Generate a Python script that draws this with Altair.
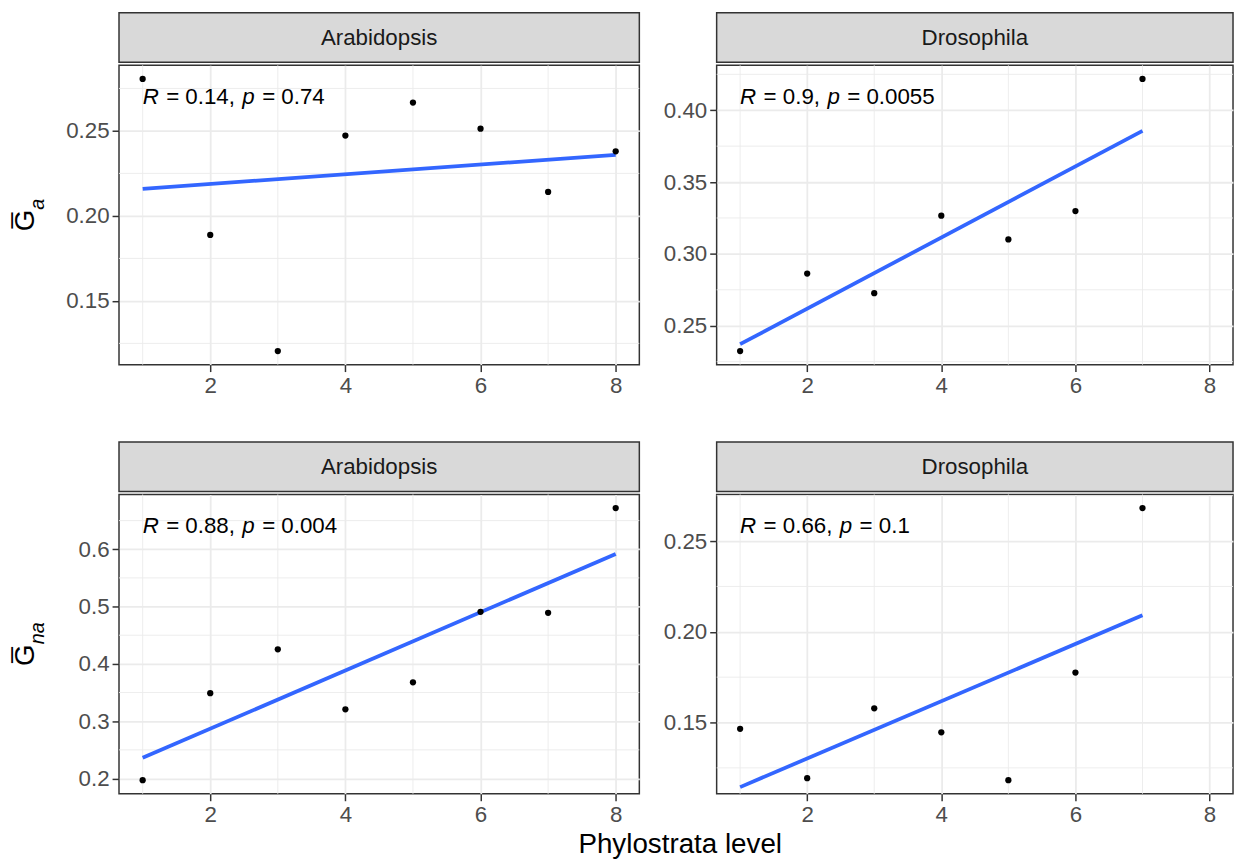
import altair as alt
import pandas as pd

FONT = "Liberation Sans"

# ---- data ----
species = ["Arabidopsis", "Drosophila"]
phylo_ara = [1, 2, 3, 4, 5, 6, 7, 8]
phylo_dro = [1, 2, 3, 4, 5, 6, 7]
ga_ara = [0.2806, 0.1888, 0.1205, 0.2473, 0.2667, 0.2513, 0.2141, 0.2380]
ga_dro = [0.2324, 0.2863, 0.2727, 0.3266, 0.3101, 0.3298, 0.4218]
gna_ara = [0.1971, 0.3489, 0.4253, 0.3207, 0.3678, 0.4908, 0.4891, 0.6718]
gna_dro = [0.1465, 0.1193, 0.1578, 0.1446, 0.1182, 0.1775, 0.2682]

r_labels = ["0.14", "0.9", "0.88", "0.66"]
p_labels = ["0.74", "0.0055", "0.004", "0.1"]

x_major = [2, 4, 6, 8]
x_minor = [1, 3, 5, 7]
yt_ga_ara = [0.15, 0.20, 0.25]
ym_ga_ara = [0.125, 0.175, 0.225, 0.275]
yt_ga_dro = [0.25, 0.30, 0.35, 0.40]
ym_ga_dro = [0.225, 0.275, 0.325, 0.375, 0.425]
yt_gna_ara = [0.2, 0.3, 0.4, 0.5, 0.6]
ym_gna_ara = [0.25, 0.35, 0.45, 0.55, 0.65]
yt_gna_dro = [0.15, 0.20, 0.25]
ym_gna_dro = [0.125, 0.175, 0.225, 0.275]

ytitle_main = "G\u0305"
ytitle_sub = ["a", "na"]
x_title = "Phylostrata level"

# ---- styling ----
FS = 22.5
PH = 302
SH = 50
W_LEFT = 525
W_RIGHT = 521
TFS = 28
SFS = 20

ARIAL = {" ": 0.278, ",": 0.278, ".": 0.278, "=": 0.584, "R": 0.722, "p": 0.556,
         "G": 0.778, "a": 0.556, "n": 0.556}


def tw(s, fs=FS):
    return sum(ARIAL.get(c, 0.556) for c in s if c != "\u0305") * fs


def panel(xs, ys, yticks, yminor, fmt, r, p, sub, width):
    df = pd.DataFrame({"x": xs, "y": ys})
    lo, hi = min(ys), max(ys)
    rng = hi - lo
    xsc = alt.Scale(domain=[0.65, 8.35], nice=False, zero=False)
    ysc = alt.Scale(domain=[lo - 0.05 * rng, hi + 0.05 * rng], nice=False, zero=False)
    xaxis = alt.Axis(values=x_major, grid=True, format="d", title=None)
    yaxis = alt.Axis(values=yticks, grid=True, format=fmt, title=None)
    X = alt.X("x:Q", scale=xsc, axis=xaxis)
    Y = alt.Y("y:Q", scale=ysc, axis=yaxis)

    minor_x = alt.Chart(pd.DataFrame({"x": x_minor})).mark_rule(
        color="#EBEBEB", strokeWidth=0.9).encode(x=X)
    minor_y = alt.Chart(pd.DataFrame({"y": yminor})).mark_rule(
        color="#EBEBEB", strokeWidth=0.9).encode(y=Y)
    pts = alt.Chart(df).mark_circle(color="black", opacity=1, size=40).encode(x=X, y=Y)
    line = alt.Chart(df).transform_regression("x", "y").mark_line(
        color="#3366FF", strokeWidth=3.8).encode(x=X, y=Y)

    lab = pd.DataFrame({"x": [1]})
    gap = 0.278 * FS + 1.2
    pieces = [("R", "italic"), ("= " + r + ",", "normal"), ("p", "italic"), ("= " + p, "normal")]
    layers = [minor_x, minor_y, line, pts]
    dx = 0.0
    for t, style in pieces:
        layers.append(
            alt.Chart(lab).mark_text(
                text=t, fontStyle=style, font=FONT, fontSize=FS, color="black",
                align="left", baseline="alphabetic", dx=dx
            ).encode(x=X, y=alt.value(39))
        )
        dx += tw(t) + gap

    if sub:
        gw = tw("G", TFS)
        total = gw + tw(sub, SFS)
        ybase = PH / 2 + total / 2
        layers.append(
            alt.Chart(lab).mark_text(
                text=ytitle_main, font=FONT, fontSize=TFS, color="black", angle=270,
                align="left", baseline="alphabetic"
            ).encode(x=alt.value(-86), y=alt.value(ybase))
        )
        layers.append(
            alt.Chart(lab).mark_text(
                text=sub, font=FONT, fontSize=SFS, fontStyle="italic", color="black",
                angle=270, align="left", baseline="alphabetic", dx=gw, dy=10
            ).encode(x=alt.value(-86), y=alt.value(ybase))
        )
    return alt.layer(*layers).properties(width=width, height=PH)


def strip(name, width):
    return alt.Chart(pd.DataFrame({"s": [name]})).mark_text(
        font=FONT, fontSize=FS, color="#1A1A1A", baseline="middle", align="center"
    ).encode(text="s:N", x=alt.value(width / 2), y=alt.value(SH / 2)).properties(
        width=width, height=SH,
        view=alt.ViewBackground(fill="#D9D9D9", stroke="#333333", strokeWidth=1.5),
    )


p1 = panel(phylo_ara, ga_ara, yt_ga_ara, ym_ga_ara, ".2f", r_labels[0], p_labels[0], ytitle_sub[0], W_LEFT)
p2 = panel(phylo_dro, ga_dro, yt_ga_dro, ym_ga_dro, ".2f", r_labels[1], p_labels[1], None, W_RIGHT)
p3 = panel(phylo_ara, gna_ara, yt_gna_ara, ym_gna_ara, ".1f", r_labels[2], p_labels[2], ytitle_sub[1], W_LEFT)
p4 = panel(phylo_dro, gna_dro, yt_gna_dro, ym_gna_dro, ".2f", r_labels[3], p_labels[3], None, W_RIGHT)

c1 = alt.vconcat(strip(species[0], W_LEFT), p1, spacing=0)
c2 = alt.vconcat(strip(species[1], W_RIGHT), p2, spacing=0)
c3 = alt.vconcat(strip(species[0], W_LEFT), p3, spacing=0)
c4 = alt.vconcat(strip(species[1], W_RIGHT), p4, spacing=0)

row1 = alt.hconcat(c1, c2, spacing=21)
row2 = alt.hconcat(c3, c4, spacing=21)

chart = alt.vconcat(row1, row2, spacing=43).properties(
    padding={"left": 3, "top": 0, "right": 0, "bottom": 0},
    background="white",
    title=alt.TitleParams(
        x_title, orient="bottom", anchor="middle", fontSize=TFS, font=FONT,
        fontWeight="normal", color="black", dx=58, offset=4,
    ),
).configure_view(
    stroke="#333333", strokeWidth=1.5, fill="white"
).configure_axis(
    domain=False, ticks=True, tickColor="#333333", tickWidth=1.5, tickSize=7,
    labelColor="#4D4D4D", labelFont=FONT, labelFontSize=FS, labelPadding=3,
    gridColor="#EBEBEB", gridWidth=1.8,
).configure_concat(spacing=0)

chart.save("out.html", embed_options={"renderer": "svg", "actions": False})
